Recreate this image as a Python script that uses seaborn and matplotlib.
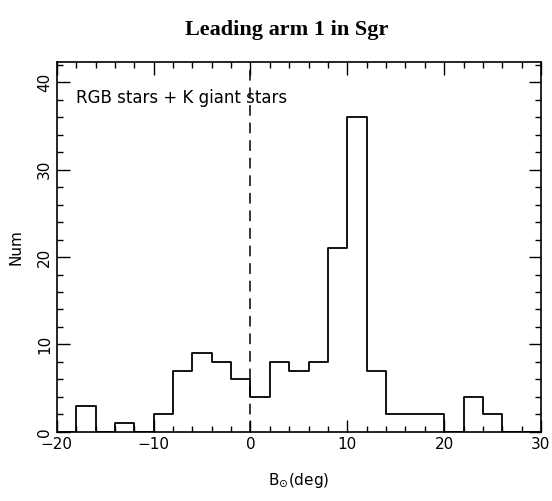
import numpy as np
import pandas as pd
import seaborn as sns
import matplotlib.pyplot as plt
from matplotlib.ticker import MultipleLocator

# === Data: counts per 2-deg bin in B_sun ===
bin_edges = list(range(-20, 32, 2))
counts = [0, 3, 0, 1, 0, 2, 7, 9, 8, 6,
          4, 8, 7, 8, 21, 36, 7, 2, 2, 2,
          0, 4, 2, 0, 0]
bin_centers = [e + 1 for e in bin_edges[:-1]]

df = pd.DataFrame({"b_sun": bin_centers, "num": counts})

sns.set_style("ticks", {"text.color": "black", "axes.labelcolor": "black",
                        "xtick.color": "black", "ytick.color": "black",
                        "axes.edgecolor": "black"})
plt.rcParams["font.family"] = ["DejaVu Sans"]

fig = plt.figure(figsize=(5.52, 5.01), dpi=100)
ax = fig.add_axes([0.103, 0.138, 0.877, 0.738])

sns.histplot(
    data=df, x="b_sun", weights="num", bins=bin_edges,
    element="step", fill=False, color="black", linewidth=1.3, ax=ax
)
ax.axvline(0, color="black", linestyle=(0, (7, 4.5)), linewidth=1.1)

ax.set_xlim(-20, 30)
ax.set_ylim(0, 42.3)
ax.xaxis.set_major_locator(MultipleLocator(10))
ax.xaxis.set_minor_locator(MultipleLocator(2))
ax.yaxis.set_major_locator(MultipleLocator(10))
ax.yaxis.set_minor_locator(MultipleLocator(2))
ax.tick_params(which="both", direction="in", top=True, right=True,
               labelsize=11, color="black", width=1)
ax.tick_params(which="major", length=9)
ax.tick_params(which="minor", length=4.5)
for lab in ax.get_yticklabels():
    lab.set_rotation(90)
    lab.set_va("center")
for sp in ax.spines.values():
    sp.set_linewidth(1.2)

ax.set_xlabel(r"B$_{\odot}$(deg)", fontsize=11, labelpad=14)
ax.set_ylabel("Num", fontsize=11, labelpad=10)
ax.text(-18.0, 38.2, "RGB stars + K giant stars", fontsize=12, va="center")

fig.suptitle("Leading arm 1 in Sgr", fontsize=16, fontweight="bold",
             family="Liberation Serif", x=0.52, y=0.96)

fig.savefig("out.png", dpi=100)
print("[OK] saved out.png")
